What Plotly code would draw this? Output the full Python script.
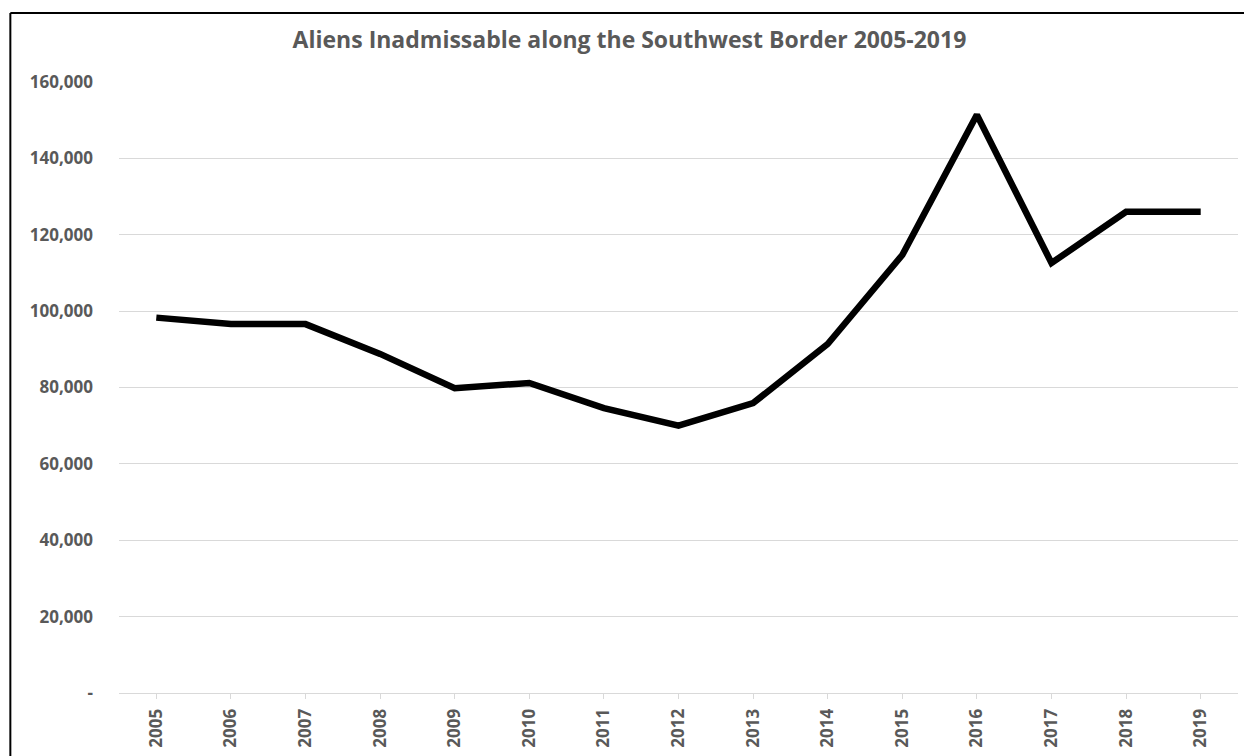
import plotly.graph_objects as go

years = [str(y) for y in range(2005, 2020)]
inadmissibles = [98300, 96600, 96600, 88800, 79800, 81200, 74600, 70000,
                 75900, 91400, 114700, 151400, 112600, 126000, 126000]

y_tickvals = [0, 20000, 40000, 60000, 80000, 100000, 120000, 140000, 160000]
y_ticktext = ["-"] + [f"{v:,}" for v in y_tickvals[1:]]

GRAY_TEXT = "#595959"
GRID = "#d9d9d9"
FONT = "Open Sans"

fig = go.Figure()
fig.add_trace(go.Scatter(
    x=years, y=inadmissibles, mode="lines",
    line=dict(color="black", width=6.5),
    showlegend=False, hoverinfo="x+y",
))

fig.update_layout(
    width=1244, height=756,
    margin=dict(l=119, r=6, t=82, b=63, autoexpand=False),
    paper_bgcolor="white", plot_bgcolor="white",
    title=dict(
        text="<b>Aliens Inadmissable along the Southwest Border 2005-2019</b>",
        x=0.506, xanchor="center", y=0.947, yanchor="middle",
        yref="container",
        font=dict(family=FONT, size=23, color=GRAY_TEXT),
    ),
    xaxis=dict(
        type="category",
        automargin=False,
        tickangle=-90,
        tickfont=dict(family=FONT, size=17, color=GRAY_TEXT, weight="bold"),
        showgrid=False,
        showline=True, linecolor=GRID, linewidth=1,
        ticks="outside", ticklen=5, tickcolor=GRID,
        ticklabelstandoff=3,
        zeroline=False,
        range=[-0.5, len(years) - 0.5],
    ),
    yaxis=dict(
        automargin=False,
        range=[0, 160000],
        tickvals=y_tickvals, ticktext=y_ticktext,
        tickfont=dict(family=FONT, size=17, color=GRAY_TEXT, weight="bold"),
        showgrid=True, gridcolor=GRID, gridwidth=1,
        zeroline=False, showline=False,
        ticks="", ticklabelstandoff=25,
    ),
)

# frame around the chart (top and left edges)
fig.add_shape(type="line", xref="paper", yref="paper",
              x0=-0.0971, x1=1.01, y0=1.1129, y1=1.1129,
              line=dict(color="black", width=2))
fig.add_shape(type="line", xref="paper", yref="paper",
              x0=-0.0971, x1=-0.0971, y0=1.1129, y1=-0.11,
              line=dict(color="black", width=2))

fig.write_html("out.html")
